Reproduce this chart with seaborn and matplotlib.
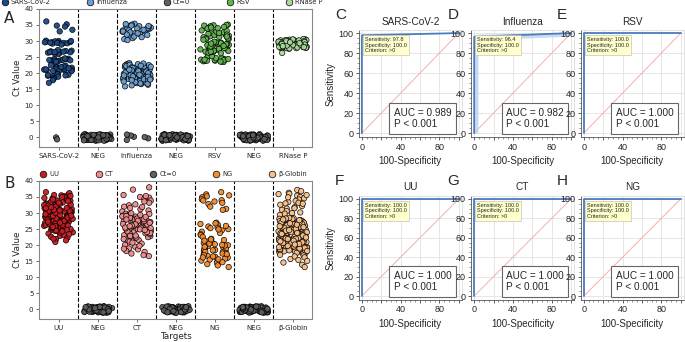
import numpy as np
import pandas as pd
import seaborn as sns
import matplotlib.pyplot as plt
from matplotlib.lines import Line2D
from matplotlib.ticker import MultipleLocator

# ---------------------------------------------------------------
# Panel A - respiratory targets (Ct values)
# ---------------------------------------------------------------
a_order = ["SARS-CoV-2", "NEG1", "Influenza", "NEG2", "RSV", "NEG3", "RNase P"]
a_labels = ["SARS-CoV-2", "NEG", "Influenza", "NEG", "RSV", "NEG", "RNase P"]
a_hues = ["SARS-CoV-2", "Influenza", "Ct=0", "RSV", "RNase P"]
a_colors = ["#1c4a88", "#6c9fd1", "#5e5e5e", "#62b44f", "#a9d99b"]

sars_ct = [36.1, 35.2, 34.8, 34.5, 33.5, 33.0,
           30.0, 29.8, 29.6, 29.5, 29.4, 29.3, 29.9, 30.1, 29.2, 29.7, 29.5, 29.4, 30.0, 29.6, 28.9,
           27.0, 26.8, 26.6, 26.5, 26.4, 26.2, 26.9, 26.7, 26.3, 26.5, 25.9, 26.1, 27.2, 26.6,
           24.5, 24.3, 24.1, 24.0, 23.8, 23.6, 24.4, 24.2, 23.9, 23.7, 24.6, 23.5, 24.0, 24.1,
           22.3, 22.0, 21.8, 21.6, 21.5, 21.3, 21.1, 21.0, 20.9, 20.8, 21.4, 21.7, 22.1, 21.2,
           20.7, 21.9, 22.5, 21.0, 20.6, 21.5,
           19.8, 19.5, 19.2, 19.0, 19.6, 19.3, 18.9, 19.4, 18.5, 18.2, 17.8, 17.0]
sars_zero = [0.0, -0.6]

flu_ct = [35.4, 34.9, 35.1, 34.6, 33.8, 34.2, 33.4, 32.9, 33.6, 34.4, 32.5, 33.1, 31.9, 32.2, 34.0,
          33.3, 31.6, 32.7, 35.3, 34.7, 33.0, 31.2, 30.6, 30.9, 31.4, 30.3, 33.9, 32.4, 34.8, 33.5, 32.0,
          22.9, 21.4, 19.8, 18.2, 20.6, 17.4, 22.1, 19.1, 21.8, 18.7, 20.2, 16.9, 22.5, 19.5, 21.0,
          17.8, 20.9, 18.4, 22.3, 19.9, 17.1, 21.6, 18.9, 20.4, 16.6, 22.7, 19.3, 21.2, 17.6, 20.0,
          18.0, 22.0, 19.7, 21.5, 17.3, 20.7, 18.6, 23.1, 19.0, 21.9, 16.4, 20.3, 18.3, 22.4, 19.6,
          21.1, 17.7, 20.8, 18.8, 22.2, 17.0, 21.3, 19.4, 20.1, 16.8, 22.6, 18.5, 21.7, 17.5, 20.5,
          15.9, 19.2, 21.4, 18.1, 22.8, 17.2, 20.0, 19.8, 21.0, 16.2, 18.6, 22.1, 20.6, 17.9, 19.5,
          21.8, 18.3, 20.2, 17.4, 23.0, 19.0, 21.6, 16.7, 20.9, 18.9, 22.3, 17.8, 19.3, 21.1, 18.0]
flu_zero = [0.2, -0.8, 0.6, -0.3, 0.9, 0.1]

rsv_ct = [23.6, 24.2, 23.9, 24.5, 24.0, 23.7, 24.3, 24.8, 23.5, 24.1, 23.8, 24.6, 24.0, 23.6, 24.4,
          25.0, 23.9, 24.2, 24.7, 25.3,
          26.5, 27.1, 26.8, 27.4, 26.9, 27.0, 26.6, 27.3, 26.7, 27.2, 27.6, 26.4, 27.0, 26.9, 27.5,
          26.2, 27.8, 26.7,
          28.8, 29.2, 29.0, 29.5, 28.6, 29.3, 28.9, 29.1, 29.6, 28.7, 29.4, 29.0, 28.5, 29.8, 28.3, 29.2,
          30.6, 31.2, 31.8, 32.4, 30.9, 31.5, 32.1, 32.7, 31.0, 31.6, 32.3, 30.7, 31.9, 32.9, 31.3,
          30.4, 32.5, 31.7, 33.1, 31.1, 32.0, 30.8, 33.3, 31.4,
          33.8, 34.3, 34.9, 35.1, 34.0, 34.6, 33.6, 35.0, 34.4, 34.8, 33.9, 34.2]

rnasep_ct = [29.1, 28.4, 30.2, 27.9, 29.6, 28.8, 30.5, 28.1, 29.3, 27.7, 30.0, 28.6, 29.8, 28.2, 30.3,
             29.0, 27.8, 29.5, 28.5, 30.1, 28.9, 29.7, 28.0, 30.4, 28.7, 29.2, 27.6, 29.9, 28.3, 30.6,
             29.4, 28.6, 30.0, 27.9, 29.1, 28.4, 29.7, 30.2, 28.8, 29.3, 28.1, 29.6, 27.8, 30.4, 28.9,
             29.0, 28.5, 30.1, 29.8, 28.2, 29.5, 28.7, 30.3, 27.7, 29.2, 28.0, 29.9, 28.3, 30.5, 29.4,
             28.6, 29.1, 28.8, 30.0, 27.9, 29.6, 28.4, 30.2, 29.3, 28.1, 26.3]

# negative samples plotted around Ct = 0
neg_ct = [0.3, -0.5, 0.8, -0.9, 0.1, -0.2, 0.6, -0.7, 0.9, -0.1, 0.4, -0.8, 0.0, 0.7, -0.4,
          0.2, -0.6, 1.0, -0.3, 0.5, -1.0, 0.8, -0.5, 0.3, -0.9, 0.6, 0.1, -0.7, 0.4, -0.2,
          0.9, -0.6, 0.0, 0.7, -0.4, 0.2, -0.8, 0.5, -0.1, 0.3, 0.6, -0.3, 0.9, -0.9, 0.1,
          -0.5, 0.8, -0.7, 0.4, -0.2, 0.0, 0.7, -1.0, 0.2, -0.6, 0.5, -0.4, 0.9, -0.1, 0.3,
          -0.8, 0.6, -0.3, 0.1, 0.8, -0.5, 0.4, -0.9, 0.0, 0.7]

# ---------------------------------------------------------------
# Panel B - STI targets
# ---------------------------------------------------------------
b_order = ["UU", "NEG1", "CT", "NEG2", "NG", "NEG3", "β-Globin"]
b_labels = ["UU", "NEG", "CT", "NEG", "NG", "NEG", "β-Globin"]
b_hues = ["UU", "CT", "Ct=0", "NG", "β-Globin"]
b_colors = ["#c71d24", "#f08b8b", "#5e5e5e", "#f28c30", "#f8c089"]

uu_ct = [29.4, 31.8, 26.2, 33.5, 28.1, 24.7, 30.6, 35.2, 27.3, 32.4, 25.1, 29.9, 34.1, 26.8, 31.2,
         23.6, 28.7, 33.0, 30.1, 27.8, 32.9, 25.6, 29.2, 35.8, 26.5, 31.5, 24.2, 28.4, 34.6, 30.8,
         27.0, 32.1, 22.9, 29.6, 33.8, 26.0, 31.0, 28.9, 24.9, 35.5, 30.3, 27.5, 32.7, 25.4, 29.0,
         34.3, 26.9, 31.4, 23.2, 28.2, 33.3, 30.5, 27.1, 36.2, 25.8, 29.7, 32.2, 24.4, 28.6, 34.9,
         31.1, 26.3, 30.0, 22.3, 33.6, 27.7, 29.3, 35.0, 25.3, 31.7, 28.0, 32.5, 24.0, 30.9, 26.6,
         34.0, 29.5, 21.9, 27.4, 33.1, 30.2, 25.9, 31.9, 28.5, 36.5, 23.9, 29.8, 32.8, 26.1, 30.7,
         27.9, 34.4, 24.6, 31.3, 28.3, 33.9, 21.5, 29.1, 35.6, 26.7, 30.4, 27.2, 32.0, 25.0, 28.8,
         33.4, 22.6, 31.6, 29.4, 34.7, 26.4, 30.1, 24.8, 28.0, 32.6, 27.6, 35.3, 25.5, 31.0, 29.9,
         23.4, 30.6, 27.0, 33.2, 28.6, 21.0, 32.3, 26.0, 29.6, 34.2, 24.3, 31.5, 28.2, 30.8, 25.7,
         33.7, 27.3, 22.0, 29.2, 31.8]

ct_ct = [38.0, 37.3, 35.6, 35.0, 34.8, 34.5, 33.9, 33.2, 32.7, 32.4, 32.0, 31.6, 31.2, 30.8, 30.5,
         35.3, 33.6, 31.9,
         29.8, 27.4, 25.1, 28.6, 23.9, 26.7, 29.2, 24.5, 27.9, 22.8, 26.1, 28.9, 25.6, 23.3, 27.1,
         29.5, 24.0, 26.4, 28.2, 22.5, 25.9, 27.7, 23.6, 29.0, 26.9, 24.8, 28.4, 22.2, 25.3, 27.3,
         29.7, 24.2, 26.2, 28.0, 23.1, 25.7, 27.5, 29.3, 21.9, 26.6, 24.6, 28.7, 23.7, 27.0, 25.0,
         29.9, 22.7, 26.3, 28.1, 24.3, 27.8, 25.4, 23.4, 28.5, 26.0, 21.6, 29.1, 24.9, 27.2, 22.9,
         26.8, 25.2, 28.3, 23.8, 27.6, 21.3, 25.8, 29.4, 24.1, 26.5, 22.4, 28.8, 25.5, 27.0, 23.0,
         26.1, 24.7, 21.1, 28.0, 25.9,
         20.5, 20.1, 19.5, 19.0, 18.7, 18.2, 17.9, 16.6, 17.4, 20.8, 19.8, 16.9, 18.9]

ng_ct = [36.5, 35.8, 35.2, 34.9, 34.3, 34.0, 33.6, 33.2, 32.8, 32.0, 31.3, 35.5, 33.9, 31.0,
         27.0, 26.6, 26.2, 25.8, 25.3, 25.0, 24.6, 24.2, 23.8, 23.4, 26.0, 25.5, 24.9, 23.1, 22.6, 26.8,
         22.0, 21.6, 21.2, 20.9, 20.6, 20.3, 20.0, 19.7, 19.4, 19.1, 18.8, 18.5, 18.2, 17.9, 17.6,
         17.3, 17.0, 16.7, 16.4, 16.1, 15.8, 15.5, 15.2, 14.9, 14.5, 14.1, 13.7, 13.2, 21.4, 20.5,
         19.9, 19.2, 18.6, 18.0, 17.4, 16.9, 16.2, 15.6, 14.7, 20.1, 18.4, 17.2, 19.5, 16.5, 21.8]

bglobin_ct = [37.2, 36.8, 36.3, 35.9, 35.4, 35.0, 34.6, 34.2, 33.8, 33.4, 33.0, 32.6, 32.2, 31.8,
              31.4, 31.0, 30.6, 30.2, 29.8, 29.4, 36.0, 34.9, 33.2, 31.5, 30.0, 35.6, 32.9,
              24.1, 19.8, 26.9, 21.4, 27.8, 18.6, 23.3, 25.7, 20.2, 22.8, 27.1, 17.9, 24.8, 21.0, 26.2,
              19.3, 28.3, 22.1, 25.0, 20.7, 23.7, 27.5, 18.2, 25.4, 21.7, 26.6, 19.0, 24.5, 22.4, 28.0,
              20.4, 23.0, 26.0, 17.5, 25.1, 21.2, 27.3, 19.6, 24.0, 22.6, 18.9, 26.4, 23.5, 20.9, 27.9,
              22.0, 25.6, 19.4, 24.3, 21.6, 28.4, 17.7, 26.8, 23.1, 20.0, 25.3, 22.9, 27.0, 18.4, 24.7,
              21.9, 26.1, 19.1, 23.8, 27.6, 20.5, 25.9, 22.2, 28.2, 18.0, 24.9, 21.3, 26.7, 19.7, 23.4,
              27.2, 20.8, 25.2, 22.5, 17.3, 26.3, 23.9, 19.5, 27.7, 21.1, 24.6, 18.3, 25.8, 22.7, 28.1,
              20.3, 23.2, 26.5, 19.9, 24.2, 21.5, 27.4, 18.7, 25.5, 22.3, 20.6, 27.0, 23.6, 18.1, 25.0,
              21.8, 26.9, 19.2, 24.4, 22.0, 28.5, 20.1, 23.3, 26.2, 17.6, 25.7, 21.4, 27.5, 19.8, 24.0,
              22.6, 26.6, 18.5, 23.7, 27.9, 20.9, 25.4, 21.7, 28.3, 19.0, 24.8, 22.9, 26.0, 18.8, 23.0,
              27.1, 20.4, 25.1, 21.0, 24.5, 27.3, 19.4, 22.4, 25.9, 20.7, 26.4, 23.5, 18.2, 24.1, 21.2,
              28.0, 19.6, 25.6, 22.1, 26.8, 20.2, 23.8, 27.8, 21.9, 24.7,
              16.8, 16.2, 15.7, 15.1, 14.6, 13.9, 13.2, 16.5, 15.4, 17.0]

# ---------------------------------------------------------------
# ROC panels C-H
# ---------------------------------------------------------------
roc_letters = ["C", "D", "E", "F", "G", "H"]
roc_titles = ["SARS-CoV-2", "Influenza", "RSV", "UU", "CT", "NG"]
roc_sens = [97.8, 96.4, 100.0, 100.0, 100.0, 100.0]
roc_spec = [100.0, 100.0, 100.0, 100.0, 100.0, 100.0]
roc_auc = [0.989, 0.982, 1.000, 1.000, 1.000, 1.000]
# confidence band shown for Influenza
flu_ci_x = [0, 4, 4, 100]
flu_ci_lo = [0, 0, 93, 97]
flu_ci_hi = [97, 97, 99, 100]

np.random.seed(7)
sns.set_style("ticks")
plt.rcParams["font.family"] = ["DejaVu Sans"]

fig = plt.figure(figsize=(6.85, 3.42), dpi=100)


def strip_panel(ax, order, labels, hues, colors, groups, xlabel, legend_x0, colspace):
    rows = []
    for target, hue, vals in groups:
        for v in vals:
            rows.append((target, hue, v))
    df = pd.DataFrame(rows, columns=["target", "group", "ct"])
    sns.stripplot(data=df, x="target", y="ct", hue="group", order=order,
                  hue_order=hues, palette=dict(zip(hues, colors)), jitter=0.37,
                  size=3.9, linewidth=0.5, edgecolor="black", alpha=0.95,
                  legend=False, ax=ax)
    for xv in np.arange(0.5, len(order) - 1, 1.0):
        ax.axvline(xv, color="black", ls="--", lw=0.8, zorder=0)
    ax.set_xlim(-0.5, len(order) - 0.5)
    ax.set_ylim(-3, 40)
    ax.set_yticks(range(0, 41, 5))
    ax.set_xticks(range(len(order)))
    ax.set_xticklabels(labels)
    ax.tick_params(labelsize=5, length=2, width=0.6, pad=2, color="#555")
    ax.set_ylabel("Ct Value", fontsize=6.3, labelpad=2)
    ax.set_xlabel(xlabel, fontsize=6.3, labelpad=1)
    for s in ax.spines.values():
        s.set_color("#888888")
        s.set_linewidth(0.8)
    handles = [Line2D([], [], marker="o", ls="", markerfacecolor=c, markeredgecolor="black",
                      markeredgewidth=0.5, markersize=4.8) for c in colors]
    ax.legend(handles, hues, loc="lower left", bbox_to_anchor=(legend_x0, 1.025),
              ncol=5, frameon=False, fontsize=4.9, handletextpad=0.3,
              columnspacing=colspace, borderaxespad=0, borderpad=0, handlelength=1.2)


ax_a = fig.add_axes([0.057, 0.570, 0.399, 0.404])
strip_panel(ax_a, a_order, a_labels, a_hues, a_colors,
            [("SARS-CoV-2", "SARS-CoV-2", sars_ct), ("SARS-CoV-2", "Ct=0", sars_zero),
             ("NEG1", "Ct=0", neg_ct), ("Influenza", "Influenza", flu_ct),
             ("Influenza", "Ct=0", flu_zero), ("NEG2", "Ct=0", neg_ct),
             ("RSV", "RSV", rsv_ct), ("NEG3", "Ct=0", neg_ct), ("RNase P", "RNase P", rnasep_ct)],
            "", -0.14, 5.2)

ax_b = fig.add_axes([0.057, 0.067, 0.399, 0.404])
strip_panel(ax_b, b_order, b_labels, b_hues, b_colors,
            [("UU", "UU", uu_ct), ("NEG1", "Ct=0", neg_ct), ("CT", "CT", ct_ct),
             ("NEG2", "Ct=0", neg_ct), ("NG", "NG", ng_ct), ("NEG3", "Ct=0", neg_ct),
             ("β-Globin", "β-Globin", bglobin_ct)],
            "Targets", 0.0, 5.2)

fig.text(0.006, 0.945, "A", fontsize=11, va="center")
fig.text(0.006, 0.462, "B", fontsize=11, va="center")

# ROC panels
roc_lefts = [0.524, 0.688, 0.848]
roc_rows = [(0.599, 0.313), (0.123, 0.304)]
arial = "Liberation Sans"

for i in range(6):
    r, c = divmod(i, 3)
    bottom, height = roc_rows[r]
    ax = fig.add_axes([roc_lefts[c], bottom, 0.150, height])
    ax.set_xlim(-3, 103)
    ax.set_ylim(-4, 103)
    ax.set_xticks(range(0, 101, 20))
    ax.set_xticklabels(["0", "", "40", "", "80", ""])
    ax.set_yticks(range(0, 101, 20))
    ax.xaxis.set_minor_locator(MultipleLocator(5))
    ax.yaxis.set_minor_locator(MultipleLocator(5))
    ax.grid(True, which="major", color="#e2e2e2", lw=0.6)
    ax.set_axisbelow(True)
    ax.tick_params(which="major", labelsize=6.5, length=2.5, width=0.6, pad=1.5, color="#444")
    ax.tick_params(which="minor", length=1.2, width=0.4, color="#444")
    for t in ax.get_xticklabels() + ax.get_yticklabels():
        t.set_family(arial)
    ax.spines["left"].set_color("#555")
    ax.spines["bottom"].set_color("#555")
    ax.spines["top"].set_color("#dddddd")
    ax.spines["right"].set_color("#dddddd")
    for s in ax.spines.values():
        s.set_linewidth(0.6)

    # chance line
    ax.plot([0, 100], [0, 100], color="#f2a3a3", lw=0.6, zorder=1)
    if roc_titles[i] == "Influenza":
        ax.fill_between(flu_ci_x, flu_ci_lo, flu_ci_hi, color="#bcd3ee", alpha=0.8, lw=0, zorder=1)
    roc_x = [0, 0, 100 - roc_spec[i], 100]
    roc_y = [0, roc_sens[i], roc_sens[i], 100]
    sns.lineplot(x=roc_x, y=roc_y, sort=False, estimator=None, color="#4a7cc0", lw=1.3, ax=ax, zorder=3)

    ax.set_title(roc_titles[i], fontsize=7.2, family=arial, pad=4)
    ax.set_xlabel("100-Specificity", fontsize=7, family=arial, labelpad=3)
    if c == 0:
        ax.set_ylabel("Sensitivity", fontsize=7, family=arial, labelpad=2)
    ax.text(3, 96, "Sensitivity: %.1f\nSpecificity: %.1f\nCriterion: >0" % (roc_sens[i], roc_spec[i]),
            fontsize=4, family=arial, va="top", ha="left", linespacing=1.15, zorder=4,
            bbox=dict(boxstyle="square,pad=0.35", fc="#ffffcc", ec="#b5b5b5", lw=0.4))
    ax.text(0.34, 0.075, "AUC = %.3f\nP < 0.001" % roc_auc[i], transform=ax.transAxes,
            fontsize=7.2, family=arial, va="bottom", ha="left", linespacing=1.2, zorder=4,
            bbox=dict(boxstyle="square,pad=0.45", fc="white", ec="#666666", lw=0.8))

    ax_pos = ax.get_position()
    fig.text(ax_pos.x0 - 0.035, ax_pos.y1 + 0.045, roc_letters[i], fontsize=11, va="center", family=arial)

fig.savefig("out.png", dpi=100)
